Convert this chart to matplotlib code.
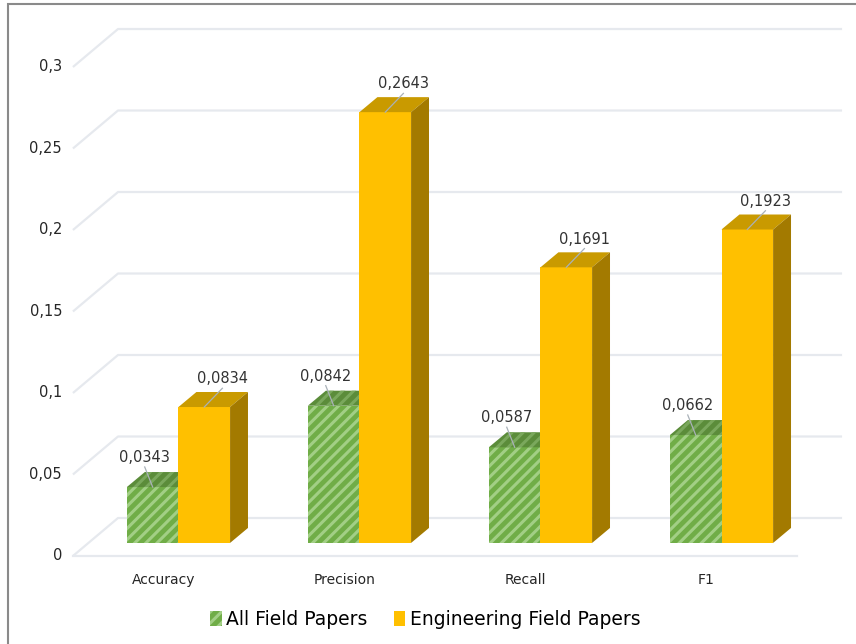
import matplotlib.pyplot as plt
from matplotlib.patches import Polygon, Patch, Rectangle

# data
categories = ['Accuracy', 'Precision', 'Recall', 'F1']
all_field = [0.0343, 0.0842, 0.0587, 0.0662]
engineering = [0.0834, 0.2643, 0.1691, 0.1923]
series_names = ['All Field Papers', 'Engineering Field Papers']
y_ticks = [0, 0.05, 0.1, 0.15, 0.2, 0.25, 0.3]
y_tick_labels = ['0', '0,05', '0,1', '0,15', '0,2', '0,25', '0,3']

# colours
GREEN = '#70ad47'
GREEN_HATCH = '#a2cf85'
GREEN_TOP = '#5b8c3a'
GOLD = '#ffc000'
GOLD_TOP = '#c99a00'
GOLD_SIDE = '#a37a00'
GRID = '#e6e9ee'

plt.rcParams['font.family'] = 'DejaVu Sans'
plt.rcParams['hatch.linewidth'] = 2.2

# 3d-ish geometry (category units, value units)
W = 0.285                 # bar width
BDX, BDY = 0.099, 0.0092  # bar depth
FDX, FDY = -0.083, -0.008  # front plane offset
KDX, KDY = 0.166, 0.0153   # back wall offset

fig = plt.figure(figsize=(8.56, 6.44), dpi=100)
ax = fig.add_axes([0, 0, 1, 1])
ax.set_xlim(-0.986, 3.743)
ax.set_ylim(-0.062, 0.3331)
ax.axis('off')

# outer frame
fig.patches.append(Rectangle((8 / 856, -0.05), 1.2, 1 - 4 / 644 + 0.05,
                             transform=fig.transFigure, fill=False,
                             edgecolor='#8a8a8a', lw=1.5))

# gridlines with depth
for t, lab in zip(y_ticks, y_tick_labels):
    ax.plot([-0.5 + FDX, -0.5 + KDX, 3.5 + KDX], [t + FDY, t + KDY, t + KDY],
            color=GRID, lw=1.6, zorder=1, solid_capstyle='butt')
    ax.text(-0.5 + FDX - 0.06, t + FDY, lab,
            ha='right', va='center', fontsize=10.5, color='#262626')
ax.plot([-0.5 + FDX, 3.5 + FDX], [FDY, FDY], color=GRID, lw=1.6, zorder=1)

xs = list(range(len(categories)))
ax.bar([x - W for x in xs], all_field, width=W, align='edge', color=GREEN,
       edgecolor=GREEN_HATCH, hatch='///', lw=0, zorder=3)
ax.bar(xs, engineering, width=W, align='edge', color=GOLD, lw=0, zorder=5)

for x, g, e in zip(xs, all_field, engineering):
    # green top
    x0 = x - W
    ax.add_patch(Polygon([(x0, g), (x0 + W, g), (x0 + W + BDX, g + BDY), (x0 + BDX, g + BDY)],
                         closed=True, facecolor=GREEN_TOP, edgecolor='#7aa85c',
                         hatch='///', lw=0, zorder=4))
    # gold top and side
    ax.add_patch(Polygon([(x, e), (x + W, e), (x + W + BDX, e + BDY), (x + BDX, e + BDY)],
                         closed=True, facecolor=GOLD_TOP, lw=0, zorder=6))
    ax.add_patch(Polygon([(x + W, 0), (x + W + BDX, BDY), (x + W + BDX, e + BDY), (x + W, e)],
                         closed=True, facecolor=GOLD_SIDE, lw=0, zorder=6))

    # data labels with leader lines
    gx = x - W / 2
    ax.plot([gx, gx - 0.044], [g, g + 0.0123], color='#a9b1b8', lw=0.9, zorder=7)
    ax.text(gx - 0.044, g + 0.0135, f'{g:.4f}'.replace('.', ','), ha='center',
            va='bottom', fontsize=10.5, color='#333333', zorder=8)
    ex = x + W / 2
    ax.plot([ex, ex + 0.1], [e, e + 0.0115], color='#a9b1b8', lw=0.9, zorder=7)
    ax.text(ex + 0.1, e + 0.0127, f'{e:.4f}'.replace('.', ','), ha='center',
            va='bottom', fontsize=10.5, color='#333333', zorder=8)

    # category labels
    ax.text(x + FDX, -0.0225, categories[x], ha='center', va='center',
            fontsize=10, color='#262626')

handles = [Patch(facecolor=GREEN, edgecolor=GREEN_HATCH, hatch='///', lw=0),
           Patch(facecolor=GOLD, lw=0)]
fig.legend(handles, series_names, loc='center', bbox_to_anchor=(0.497, 0.038),
           ncol=2, frameon=False, fontsize=13.5, handlelength=0.6, handleheight=0.8,
           handletextpad=0.25, columnspacing=1.4)

fig.savefig('out.png', dpi=100)
